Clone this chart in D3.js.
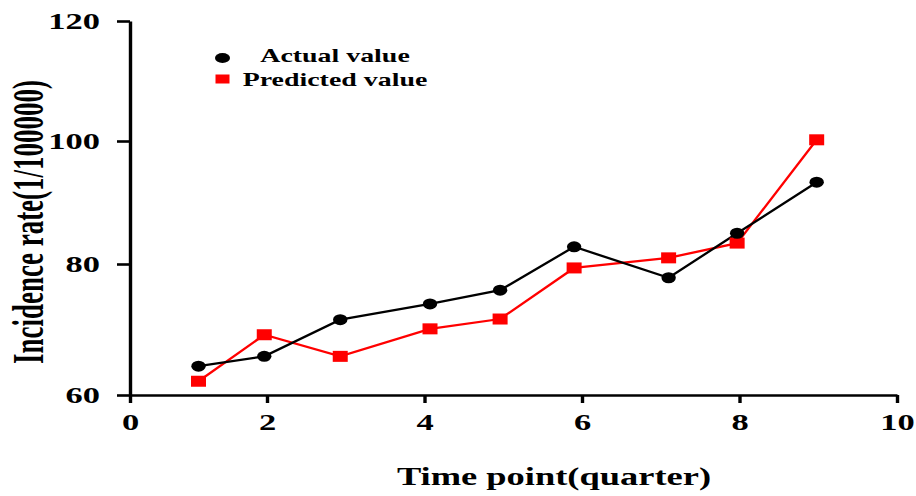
<!DOCTYPE html>
<html>
<head>
<meta charset="utf-8">
<script src="https://cdn.jsdelivr.net/npm/d3@7"></script>
<style>
  html, body { margin: 0; padding: 0; background: #fff; }
  svg { display: block; }
  text { font-family: "Liberation Serif", "Times New Roman", serif; font-weight: bold; fill: #000; }
</style>
</head>
<body>
<svg id="chart" width="916" height="496"></svg>
<script>
// Quarterly time points and incidence rates (per 100000)
const timePoints = [1, 1.96, 2.93, 4.07, 4.96, 5.9, 7.1, 7.97, 8.98];
const actualValues = [64.4, 65.9, 71.5, 73.9, 76.0, 82.8, 77.9, 85.0, 93.3];
const predictedValues = [62.1, 69.2, 65.9, 70.1, 71.6, 79.4, 81.0, 83.4, 100.2];
const xTicks = [0, 2, 4, 6, 8, 10];
const yTicks = [60, 80, 100, 120];
const seriesNames = ["Actual value", "Predicted value"];
const xTitle = "Time point(quarter)";
const yTitle = "Incidence rate(1/100000)";

const svg = d3.select("#chart");

// Scales (piecewise so the axis ticks sit where the figure places them)
const x = d3.scaleLinear().domain([0, 2, 10]).range([130, 267, 897]);
const y = d3.scaleLinear().domain([60, 80, 100, 120]).range([395, 264, 141, 21]);

// Text in this figure is drawn wide; stretch glyphs horizontally
const tickSX = 1.5;
const tickFont = "23px";

// X axis
const gx = svg.append("g")
  .attr("transform", `translate(0,${y(60)})`)
  .call(d3.axisBottom(x).tickValues(xTicks).tickSize(8).tickSizeOuter(0).tickFormat(d3.format("d")));
gx.select(".domain").attr("stroke", "#000").attr("stroke-width", 2.6);
gx.selectAll(".tick line").attr("stroke", "#000").attr("stroke-width", 3.4);
gx.selectAll(".tick text")
  .attr("y", 35).attr("dy", 0)
  .attr("transform", `scale(${tickSX},1)`)
  .style("font-size", tickFont)
  .style("font-family", "'Liberation Serif', 'Times New Roman', serif")
  .style("font-weight", "bold")
  .attr("fill", "#000");

// Y axis
const gy = svg.append("g")
  .attr("transform", `translate(${x(0)},0)`)
  .call(d3.axisLeft(y).tickValues(yTicks).tickSize(13).tickSizeOuter(0).tickFormat(d3.format("d")));
gy.select(".domain").attr("stroke", "#000").attr("stroke-width", 3.4);
gy.selectAll(".tick line").attr("stroke", "#000").attr("stroke-width", 2.6);
gy.selectAll(".tick text")
  .attr("x", -30 / tickSX).attr("dy", "0.34em")
  .attr("transform", `scale(${tickSX},1)`)
  .style("font-size", tickFont)
  .style("font-family", "'Liberation Serif', 'Times New Roman', serif")
  .style("font-weight", "bold")
  .attr("fill", "#000");

// Axis titles
svg.append("g")
  .attr("transform", `translate(554,485) scale(1.43,1)`)
  .append("text")
  .attr("text-anchor", "middle")
  .style("font-size", "25.5px")
  .text(xTitle);

svg.append("g")
  .attr("transform", `translate(43,222) scale(1.62,1) rotate(-90)`)
  .append("text")
  .attr("text-anchor", "middle")
  .style("font-size", "27px")
  .text(yTitle);

// Series
const series = [
  { name: seriesNames[1], values: predictedValues, color: "#ff0000", shape: "square" },
  { name: seriesNames[0], values: actualValues, color: "#000000", shape: "circle" }
];

const line = d3.line()
  .x((d, i) => x(timePoints[i]))
  .y(d => y(d));

series.forEach(s => {
  svg.append("path")
    .datum(s.values)
    .attr("fill", "none")
    .attr("stroke", s.color)
    .attr("stroke-width", 2.3)
    .attr("d", line);
});

series.forEach(s => {
  const g = svg.append("g");
  if (s.shape === "circle") {
    g.selectAll("ellipse").data(s.values).join("ellipse")
      .attr("cx", (d, i) => x(timePoints[i]))
      .attr("cy", d => y(d))
      .attr("rx", 7.2)
      .attr("ry", 5.5)
      .attr("fill", s.color);
  } else {
    g.selectAll("rect").data(s.values).join("rect")
      .attr("x", (d, i) => x(timePoints[i]) - 7.5)
      .attr("y", d => y(d) - 5.5)
      .attr("width", 15)
      .attr("height", 11)
      .attr("fill", s.color);
  }
});

// Legend
const legend = svg.append("g");
legend.append("ellipse")
  .attr("cx", 222.5).attr("cy", 58).attr("rx", 7.5).attr("ry", 5)
  .attr("fill", "#000");
legend.append("rect")
  .attr("x", 215.5).attr("y", 74.5).attr("width", 14).attr("height", 9)
  .attr("fill", "#ff0000");
legend.append("g")
  .attr("transform", `translate(335,62) scale(1.55,1)`)
  .append("text").attr("text-anchor", "middle").style("font-size", "18px")
  .text(seriesNames[0]);
legend.append("g")
  .attr("transform", `translate(335,86) scale(1.55,1)`)
  .append("text").attr("text-anchor", "middle").style("font-size", "18px")
  .text(seriesNames[1]);
</script>
</body>
</html>
